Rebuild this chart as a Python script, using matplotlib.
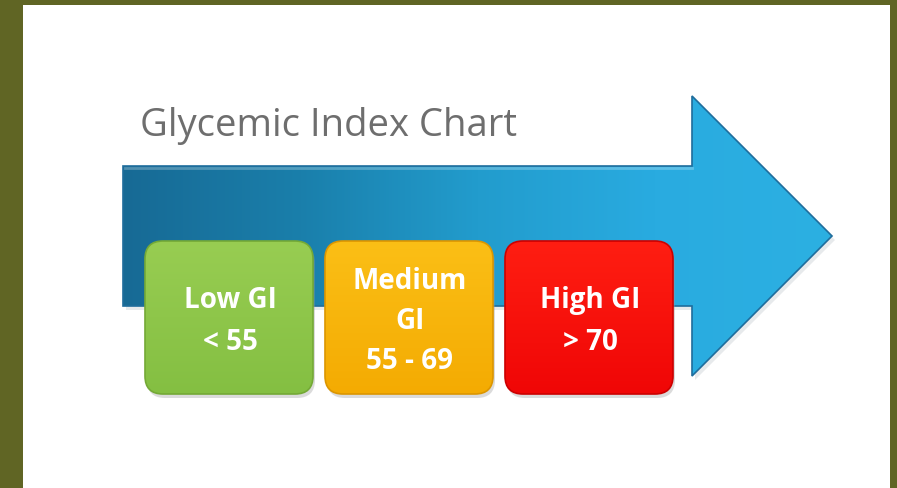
import numpy as np
import matplotlib.pyplot as plt
from matplotlib.patches import Rectangle, Polygon, FancyBboxPatch
from matplotlib.colors import LinearSegmentedColormap

title = "Glycemic Index Chart"
labels = ["Low GI\n< 55", "Medium\nGI\n55 - 69", "High GI\n> 70"]
top_colors = ["#98cd52", "#fbbf16", "#ff1e12"]
bottom_colors = ["#84bf42", "#f4ab02", "#f00606"]
edge_colors = ["#74a936", "#dc9600", "#cc0000"]

W, H = 897, 489
fig = plt.figure(figsize=(W / 100, H / 100), dpi=100)
fig.patch.set_facecolor("#606524")
ax = fig.add_axes([0, 0, 1, 1])
ax.set_xlim(0, W)
ax.set_ylim(H, 0)
ax.axis("off")

# white card inside the olive frame
ax.add_patch(Rectangle((23, 6), 867, H - 6, facecolor="white", edgecolor="none"))


def gradient_fill(patch, c0, c1, extent, horizontal=False, z=2):
    cmap = LinearSegmentedColormap.from_list("g", [c0, c1])
    g = np.linspace(0, 1, 256)
    img = g[None, :] if horizontal else g[:, None]
    im = ax.imshow(img, cmap=cmap, extent=extent, aspect="auto", zorder=z,
                   interpolation="bilinear")
    im.set_clip_path(patch)


# arrow: shaft plus head
x0, x1, xt = 123, 692, 832
y_top, y_bot = 167, 307
head_top, head_bot, tip_y = 97, 377, 237
pts = [(x0, y_top), (x1, y_top), (x1, head_top), (xt, tip_y),
       (x1, head_bot), (x1, y_bot), (x0, y_bot)]
shadow = Polygon([(x + 3, y + 4) for x, y in pts], closed=True,
                 facecolor="#d8dde0", edgecolor="none", alpha=0.6, zorder=1)
ax.add_patch(shadow)
arrow = Polygon(pts, closed=True, facecolor="none", edgecolor="#1f6d9c",
                lw=1.2, zorder=3)
ax.add_patch(arrow)
clip = Polygon(pts, closed=True, facecolor="none", edgecolor="none")
ax.add_patch(clip)
cmap = LinearSegmentedColormap.from_list(
    "arrow", ["#176a95", "#1a7fab", "#229ccd", "#29abe0", "#2cb0e2"])
im = ax.imshow(np.linspace(0, 1, 256)[None, :], cmap=cmap,
               extent=(x0, xt, head_bot, head_top), aspect="auto", zorder=2)
im.set_clip_path(clip)
# thin light rim along the top of the shaft
ax.plot([x0 + 2, x1], [y_top + 2, y_top + 2], color="white", alpha=0.25,
        lw=2, zorder=3)

ax.text(140, 126, title, fontsize=27.5, color="#6e6e6e", family="Open Sans",
        fontweight="medium", ha="left", va="center", zorder=5)

# the three GI boxes
box_x = [145, 325, 505]
box_w, box_y, box_h = 168, 242, 153
for x, lab, c0, c1, ec in zip(box_x, labels, top_colors, bottom_colors,
                              edge_colors):
    sh = FancyBboxPatch((x + 2, box_y + 4), box_w, box_h,
                        boxstyle="round,pad=0,rounding_size=18",
                        facecolor="#999999", edgecolor="none", alpha=0.35,
                        zorder=3)
    ax.add_patch(sh)
    box = FancyBboxPatch((x, box_y), box_w, box_h,
                         boxstyle="round,pad=0,rounding_size=18",
                         facecolor="none", edgecolor=ec, lw=1.2, zorder=5)
    ax.add_patch(box)
    clipbox = FancyBboxPatch((x, box_y), box_w, box_h,
                             boxstyle="round,pad=0,rounding_size=18",
                             facecolor="none", edgecolor="none")
    ax.add_patch(clipbox)
    gradient_fill(clipbox, c0, c1, (x, x + box_w, box_y + box_h, box_y), z=4)
    n = lab.count("\n") + 1
    ax.text(x + box_w / 2 + 1, box_y + box_h / 2 + 3, lab, fontsize=20,
            fontweight="bold", color="white", family="Open Sans",
            ha="center", va="center", linespacing=1.6 if n == 2 else 1.5,
            zorder=6)

fig.savefig("out.png", dpi=100, facecolor=fig.get_facecolor())
